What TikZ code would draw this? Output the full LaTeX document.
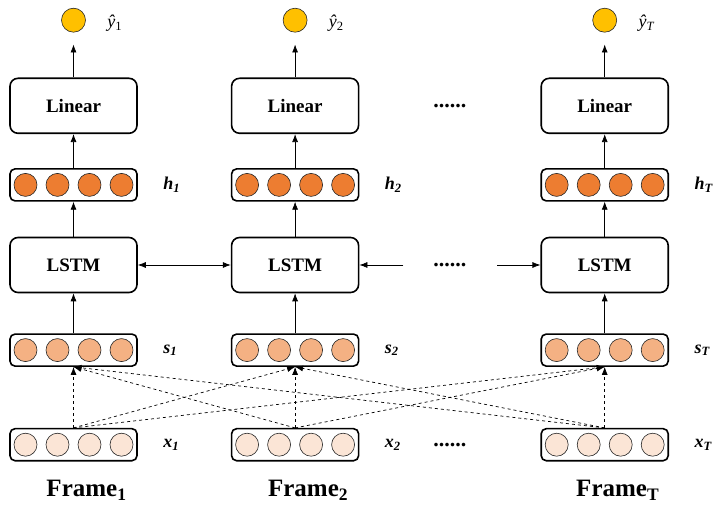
\documentclass[tikz,border=0pt]{standalone}
\usepackage{fontspec}
\setmainfont{Liberation Serif}
\usepackage{tikz}
\usetikzlibrary{calc,positioning,arrows.meta}
\definecolor{outcol}{HTML}{FFC000}
\definecolor{hcol}{HTML}{ED7D31}
\definecolor{scol}{HTML}{F4B183}
\definecolor{xcol}{HTML}{FBE5D6}
\tikzstyle{block} = [rectangle, draw, rounded corners=8pt, line width=1.6pt, minimum width=127pt, minimum height=55pt, font=\fontsize{19}{22}\selectfont\bfseries]
\tikzstyle{vec} = [rectangle, draw, rounded corners=5pt, line width=1.6pt, minimum width=127pt, minimum height=32pt]
\tikzstyle{cell} = [circle, draw=black!85, line width=0.6pt, minimum size=23pt, inner sep=0pt]
\tikzstyle{outcirc} = [circle, draw=black!85, fill=outcol, line width=0.6pt, minimum size=24pt, inner sep=0pt]
\tikzstyle{lab} = [font=\fontsize{18}{20}\selectfont\bfseries\itshape]
\tikzstyle{ylab} = [font=\fontsize{18}{20}\selectfont]
\tikzstyle{framelab} = [font=\fontsize{25}{28}\selectfont\bfseries]
\tikzstyle{dots} = [font=\fontsize{22}{24}\selectfont\bfseries]
\tikzstyle{line} = [draw, -{Latex[length=8pt,width=6pt]}, line width=0.7pt]
\tikzstyle{dline} = [draw, -{Latex[length=8pt,width=6pt]}, dashed, line width=0.7pt]

\begin{document}
\begin{tikzpicture}[x=1pt, y=1pt, node distance = 35pt, auto]
    \useasboundingbox (0,0) rectangle (723,509);
    % LSTM row
    \node [block] (lstm1) at (73.5,244) {LSTM};
    \node [block, right=93pt of lstm1] (lstm2) {LSTM};
    \node [block, right=181pt of lstm2] (lstmT) {LSTM};
    % Columns
    \foreach \i/\sub in {1/1, 2/2, T/\textit{T}} {
      \node [vec, above=35pt of lstm\i] (h\i) {};
      \node [block, above=34pt of h\i] (lin\i) {Linear};
      \node [outcirc, above=45pt of lin\i] (y\i) {};
      \node [vec, below=40pt of lstm\i] (s\i) {};
      \node [vec, below=61pt of s\i] (x\i) {};
      \foreach \v/\c in {h/hcol, s/scol, x/xcol}
        \foreach \dx [count=\k] in {-48,-16,16,48}
          \node [cell, fill=\c] (\v\i-\k) at ([xshift=\dx pt]\v\i.center) {};
      % Labels
      \node [ylab, right=18pt of y\i, yshift=-3pt] (yl\i) {\textit{ŷ}\textsubscript{\sub}};
      \node [lab, right=22pt of h\i] (hl\i) {h\textsubscript{\i}};
      \node [lab, right=22pt of s\i] (sl\i) {s\textsubscript{\i}};
      \node [lab, right=22pt of x\i] (xl\i) {x\textsubscript{\i}};
      \node [framelab, below=15pt of x\i, xshift=13pt] (fr\i) {Frame\textsubscript{\i}};
      % Lines
      \path [line, shorten >=12pt] (lin\i) -- (y\i);
      \path [line] (h\i) -- (lin\i);
      \path [line] (lstm\i) -- (h\i);
      \path [line] (s\i) -- (lstm\i);
      \path [dline] (x\i) -- (s\i);
    }
    % Cross connections
    \foreach \a/\b in {1/2, 1/T, 2/1, 2/T, T/1, T/2}
      \path [dline] (x\a.north) -- (s\b.south);
    % Recurrent links
    \path [line, {Latex[length=8pt,width=6pt]}-{Latex[length=8pt,width=6pt]}] (lstm1) -- (lstm2);
    \coordinate [right=44pt of lstm2] (r2);
    \coordinate [left=43pt of lstmT] (lT);
    \path [line] (r2) -- (lstm2);
    \path [line] (lT) -- (lstmT);
    \node [dots] (dmid) at ($(lstm2.east)!0.5!(lstmT.west)$) {......};
    \node [dots] (dtop) at ($(lin2.east)!0.5!(linT.west)$) {......};
    \node [dots] (dbot) at ($(x2.east)!0.5!(xT.west)$) {......};
\end{tikzpicture}
\end{document}
